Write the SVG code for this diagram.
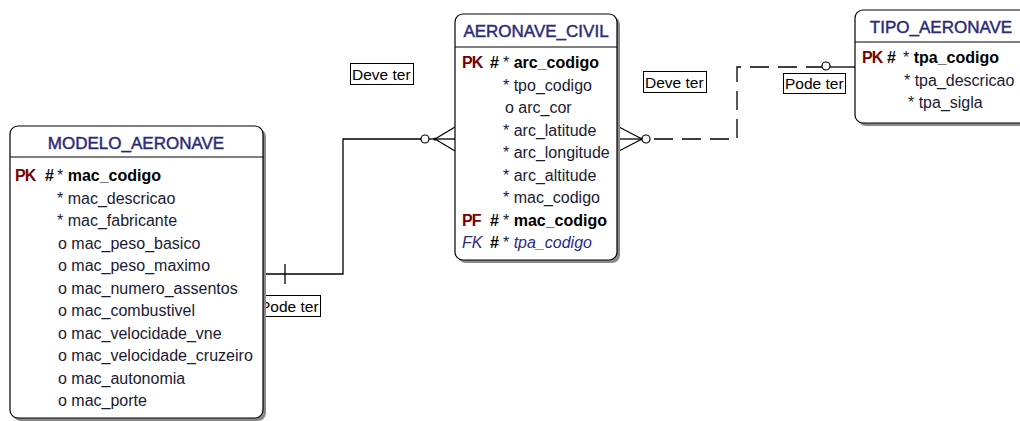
<svg xmlns="http://www.w3.org/2000/svg" width="1020" height="421" viewBox="0 0 1020 421">
<style>
text{font-family:"Liberation Sans",Arial,sans-serif;font-size:16px;fill:#1a1a33}
.title{font-size:17px;fill:#2a2a7a;stroke:#2a2a7a;stroke-width:0.45;text-anchor:middle}
.key{font-weight:bold;font-size:16px;letter-spacing:-1px;fill:#7a0000}
.hash{font-weight:bold;fill:#000}
.b{font-weight:bold}
.it{font-style:italic;fill:#2a2a80}
.box{fill:#fff;stroke:#000;stroke-width:1.2}
.shadow{fill:#8a8a8a}
.sep{stroke:#000;stroke-width:1.2}
.conn{fill:none;stroke:#000;stroke-width:1.3}
.dash{stroke-dasharray:19 9}
.opt{fill:#fff;stroke:#000;stroke-width:1.2}
.lbl{fill:#fff;stroke:#000;stroke-width:1}
.lt{font-size:15.5px;fill:#000}
</style>

<g id="connectors">
  <!-- MODELO_AERONAVE to AERONAVE_CIVIL -->
  <polyline class="conn" points="263,274 343,274 343,139 421,139"/>
  <line class="conn" x1="285" y1="264" x2="285" y2="284"/>
  <circle class="opt" cx="425" cy="139" r="4"/>
  <line class="conn" x1="429" y1="139" x2="455" y2="139"/>
  <line class="conn" x1="435" y1="139" x2="455" y2="127"/>
  <line class="conn" x1="435" y1="139" x2="455" y2="151"/>
  <circle cx="435" cy="139" r="1.6" fill="#000"/>
  <!-- AERONAVE_CIVIL to TIPO_AERONAVE -->
  <line class="conn" x1="619" y1="139" x2="642" y2="139"/>
  <line class="conn" x1="619" y1="127" x2="642" y2="139"/>
  <line class="conn" x1="619" y1="151" x2="642" y2="139"/>
  <circle cx="642" cy="139" r="1.6" fill="#000"/>
  <circle class="opt" cx="646" cy="139" r="4"/>
  <polyline class="conn dash" points="654,139 737,139 737,67 822,67"/>
  <line class="conn" x1="830" y1="67" x2="855" y2="67"/>
  <circle class="opt" cx="826" cy="66" r="4"/>
  <!-- labels -->
  <rect class="lbl" x="350.5" y="63.5" width="63" height="21"/>
  <text class="lt" x="352" y="80">Deve ter</text>
  <rect class="lbl" x="643.5" y="71.5" width="63" height="21"/>
  <text class="lt" x="645" y="88">Deve ter</text>
  <rect class="lbl" x="783.5" y="73.5" width="62" height="20"/>
  <text class="lt" x="785" y="89">Pode ter</text>
  <rect class="lbl" x="258.5" y="295.5" width="62" height="21"/>
  <text class="lt" x="260" y="312">Pode ter</text>
</g>

<g id="modelo_aeronave">
  <rect class="shadow" x="13" y="129" width="253" height="292" rx="8"/>
  <rect class="box" x="10" y="126" width="253" height="292" rx="8"/>
  <line class="sep" x1="10" y1="157" x2="263" y2="157"/>
  <text class="title" x="136" y="149">MODELO_AERONAVE</text>
  <text class="key" x="15" y="181">PK</text>
  <text class="hash" x="45" y="181">#</text>
  <text x="57" y="181">* <tspan class="b" fill="#000">mac_codigo</tspan></text>
  <text x="57" y="203.5">* mac_descricao</text>
  <text x="57" y="226">* mac_fabricante</text>
  <text x="58" y="248.5">o mac_peso_basico</text>
  <text x="58" y="271">o mac_peso_maximo</text>
  <text x="58" y="293.5">o mac_numero_assentos</text>
  <text x="58" y="316">o mac_combustivel</text>
  <text x="58" y="338.5">o mac_velocidade_vne</text>
  <text x="58" y="361">o mac_velocidade_cruzeiro</text>
  <text x="58" y="383.5">o mac_autonomia</text>
  <text x="58" y="406">o mac_porte</text>
</g>

<g id="aeronave_civil">
  <rect class="shadow" x="458" y="17" width="162" height="246" rx="8"/>
  <rect class="box" x="455" y="14" width="162" height="246" rx="8"/>
  <line class="sep" x1="455" y1="47" x2="617" y2="47"/>
  <text class="title" x="536" y="37">AERONAVE_CIVIL</text>
  <text class="key" x="462" y="68">PK</text>
  <text class="hash" x="490" y="68">#</text>
  <text x="503" y="68">* <tspan class="b" fill="#000">arc_codigo</tspan></text>
  <text x="503" y="90.5">* tpo_codigo</text>
  <text x="505" y="113">o arc_cor</text>
  <text x="503" y="135.5">* arc_latitude</text>
  <text x="503" y="158">* arc_longitude</text>
  <text x="503" y="180.5">* arc_altitude</text>
  <text x="503" y="203">* mac_codigo</text>
  <text class="key" x="462" y="225.5">PF</text>
  <text class="hash" x="490" y="225.5">#</text>
  <text x="503" y="225.5">* <tspan class="b" fill="#000">mac_codigo</tspan></text>
  <text class="it" x="462" y="248">FK</text>
  <text class="hash" x="490" y="248">#</text>
  <text x="503" y="248">* <tspan class="it">tpa_codigo</tspan></text>
</g>

<g id="tipo_aeronave">
  <rect class="shadow" x="858" y="13" width="175" height="113" rx="8"/>
  <rect class="box" x="855" y="10" width="175" height="113" rx="8"/>
  <line class="sep" x1="855" y1="42" x2="1030" y2="42"/>
  <text class="title" x="941" y="33">TIPO_AERONAVE</text>
  <text class="key" x="862" y="63">PK</text>
  <text class="hash" x="887" y="63">#</text>
  <text x="903" y="63">* <tspan class="b" fill="#000">tpa_codigo</tspan></text>
  <text x="904" y="85.5">* tpa_descricao</text>
  <text x="908" y="108">* tpa_sigla</text>
</g>
</svg>
